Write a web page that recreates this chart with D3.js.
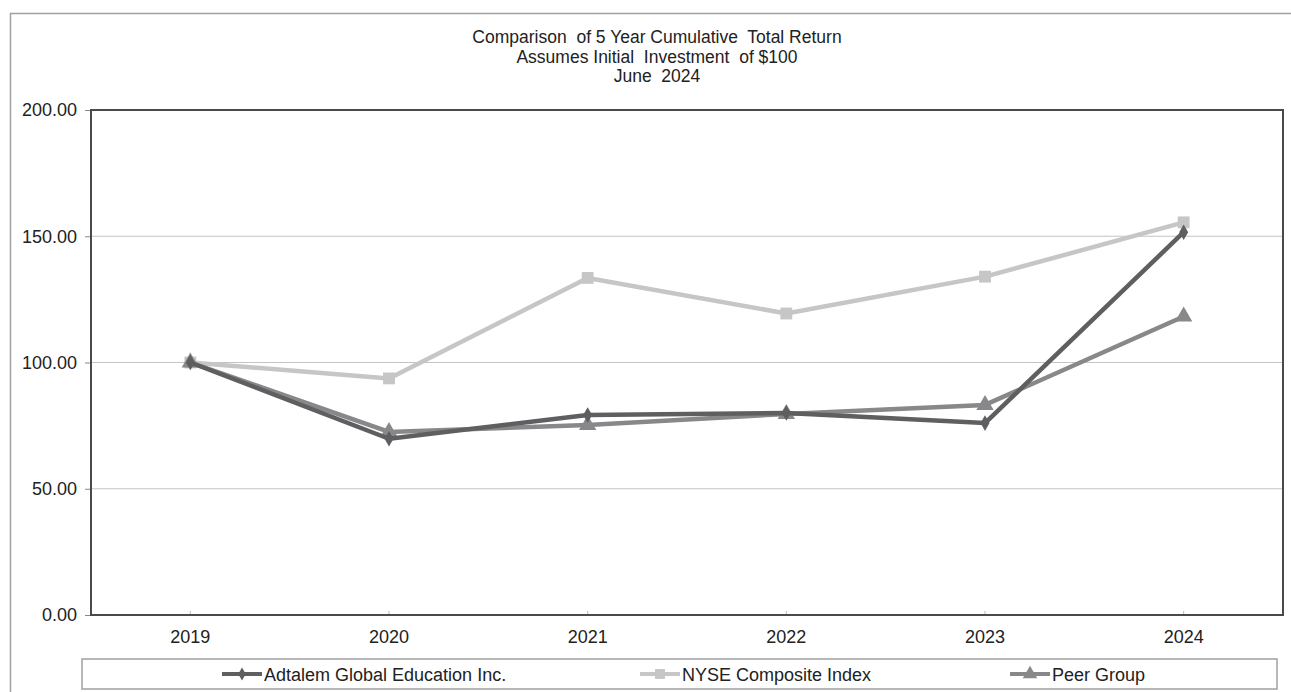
<!DOCTYPE html>
<html><head><meta charset="utf-8">
<script src="https://cdn.jsdelivr.net/npm/d3@7"></script>
<style>body{margin:0;background:#fff;} svg{display:block;font-family:"Liberation Sans",Arial,sans-serif;}</style>
</head><body><svg id="c" width="1291" height="692"></svg>
<script>
const years = ["2019","2020","2021","2022","2023","2024"];
const adtalem = [100, 69.8, 79.2, 80.0, 76.0, 151.6];
const nyse = [100, 93.7, 133.5, 119.4, 134.0, 155.5];
const peer = [100, 72.5, 75.2, 79.6, 83.2, 118.2];
const seriesNames = ["Adtalem Global Education Inc.", "NYSE Composite Index", "Peer Group"];
const yTicks = [0, 50, 100, 150, 200];
const titleLines = ["Comparison  of 5 Year Cumulative  Total Return", "Assumes Initial  Investment  of $100", "June  2024"];

const svg = d3.select("#c");
const colors = ["#5f5f62", "#c6c6c7", "#88888b"];
const symbols = [d3.symbolDiamond, d3.symbolSquare, d3.symbolTriangle];
const symSizes = [70, 140, 130];
const L = 91, R = 1283, T = 110, B = 615;

// outer frame
svg.append("path").attr("d", `M10.5,${700} V13.5 H1295`).attr("fill","none").attr("stroke","#a0a0a0").attr("stroke-width",1.5);

// titles
svg.append("g").selectAll("text").data(titleLines).join("text")
  .attr("x", 657).attr("y", (d,i)=>43 + i*19.5).attr("text-anchor","middle")
  .attr("font-size", 17.5).attr("fill","#222").style("white-space","pre").text(d=>d);

const x = d3.scaleBand().domain(years).range([L, R]);
const y = d3.scaleLinear().domain([0, 200]).range([B, T]);

// gridlines
svg.append("g").selectAll("line").data(yTicks.filter(v=>v>0 && v<200)).join("line")
  .attr("x1", L).attr("x2", R).attr("y1", d=>y(d)).attr("y2", d=>y(d))
  .attr("stroke","#c4c4c4").attr("stroke-width",1.2);

// y axis
const yAxis = svg.append("g").attr("transform",`translate(${L},0)`)
  .call(d3.axisLeft(y).tickValues(yTicks).tickFormat(d3.format(".2f")).tickSize(6).tickPadding(8));
yAxis.select(".domain").remove();
yAxis.selectAll("line").attr("stroke","#888");
yAxis.selectAll("text").attr("font-size",18).attr("fill","#222").attr("font-family","Liberation Sans, Arial, sans-serif");

// x axis
const xAxis = svg.append("g").attr("transform",`translate(0,${B})`)
  .call(d3.axisBottom(x).tickSize(-4).tickPadding(15));
xAxis.select(".domain").remove();
xAxis.selectAll("line").attr("stroke","#bbb");
xAxis.selectAll("text").attr("font-size",18).attr("fill","#222").attr("font-family","Liberation Sans, Arial, sans-serif");

// plot frame
svg.append("rect").attr("x",L).attr("y",T).attr("width",R-L).attr("height",B-T)
  .attr("fill","none").attr("stroke","#4a4a4a").attr("stroke-width",2);

const allSeries = [adtalem, nyse, peer];
const cx = d => x(d) + x.bandwidth()/2;
const line = d3.line().x((d,i)=>cx(years[i])).y(d=>y(d));
const drawOrder = [1, 2, 0];
drawOrder.forEach(si => {
  const g = svg.append("g");
  g.append("path").datum(allSeries[si]).attr("d", line).attr("fill","none")
    .attr("stroke", colors[si]).attr("stroke-width", 4.5).attr("stroke-linejoin","round");
  g.selectAll("path.m").data(allSeries[si]).join("path").attr("class","m")
    .attr("transform",(d,i)=>`translate(${cx(years[i])},${y(d)})`)
    .attr("d", d3.symbol().type(symbols[si]).size(symSizes[si])).attr("fill", colors[si]);
});

// legend
svg.append("rect").attr("x",82).attr("y",659).attr("width",1195).attr("height",30)
  .attr("fill","none").attr("stroke","#a0a0a0").attr("stroke-width",1.5);
const legX = [222, 640, 1010];
seriesNames.forEach((n,i)=>{
  const g = svg.append("g").attr("transform",`translate(${legX[i]},674)`);
  g.append("line").attr("x1",0).attr("x2",40).attr("stroke",colors[i]).attr("stroke-width",4);
  g.append("path").attr("transform","translate(20,0)").attr("d",d3.symbol().type(symbols[i]).size(symSizes[i]*0.7)).attr("fill",colors[i]);
  g.append("text").attr("x",42).attr("y",6.5).attr("font-size",18).attr("fill","#222").text(n);
});
</script></body></html>
